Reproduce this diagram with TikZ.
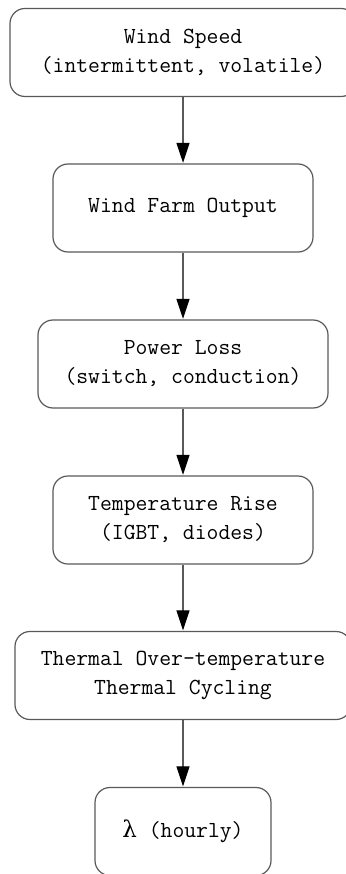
\documentclass[tikz,border=0pt]{standalone}
\usepackage{fontspec}
\setmonofont{Latin Modern Mono}
\newfontfamily\lamfont{DejaVu Serif}
\usetikzlibrary{positioning,arrows.meta}

\begin{document}
\begin{tikzpicture}[
    x=1pt, y=-1pt,
    stepbox/.style={draw=black!65, line width=1.2pt, rounded corners=15pt,
        minimum height=88pt, align=center, inner sep=0pt,
        font=\ttfamily\fontsize{23}{29}\selectfont},
    flow/.style={draw=black!65, line width=1.2pt,
        -{Triangle[length=20pt, width=13pt, color=black]}, shorten >=0.6pt},
]
\useasboundingbox (0, 0) rectangle (345, 874);
\node[stepbox, minimum width=346pt] (wind) at (183, 52.5) {Wind Speed\\(intermittent, volatile)};
\node[stepbox, minimum width=260pt] (farm) at (183, 208) {Wind Farm Output};
\node[stepbox, minimum width=290pt] (loss) at (183, 364) {Power Loss\\(switch, conduction)};
\node[stepbox, minimum width=260pt] (temp) at (183, 520) {Temperature Rise\\(IGBT, diodes)};
\node[stepbox, minimum width=336pt] (therm) at (183, 675.5) {Thermal Over-temperature\\Thermal Cycling};
\node[stepbox, minimum width=176pt] (rate) at (183, 831.5) {{\lamfont λ} (hourly)};
\draw[flow] (wind) -- (farm);
\draw[flow] (farm) -- (loss);
\draw[flow] (loss) -- (temp);
\draw[flow] (temp) -- (therm);
\draw[flow] (therm) -- (rate);
\end{tikzpicture}
\end{document}
